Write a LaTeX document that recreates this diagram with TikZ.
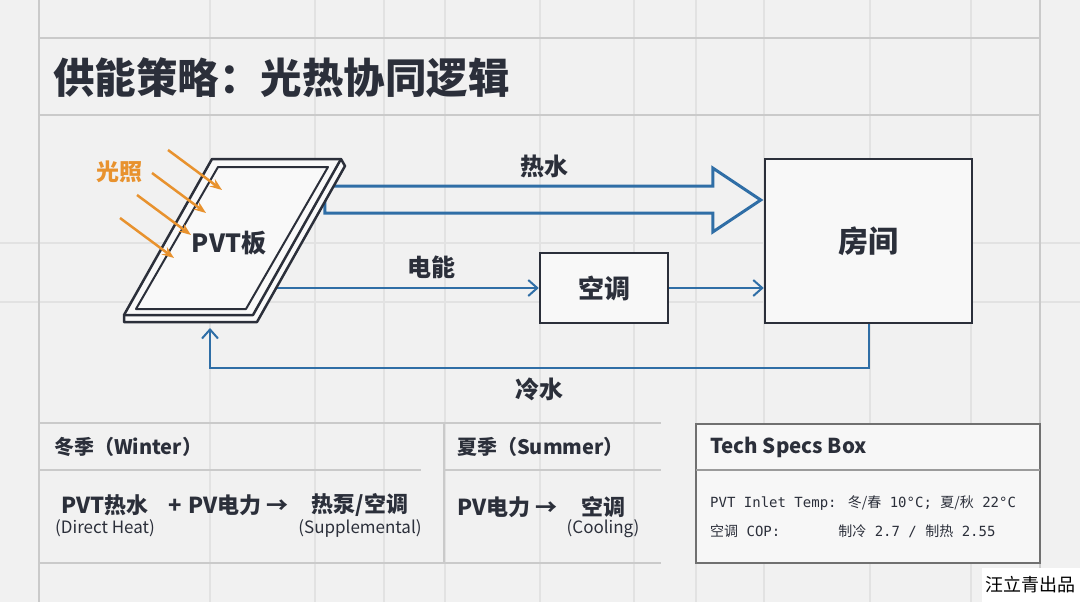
\documentclass[tikz,border=0pt]{standalone}
\usepackage{fontspec}
\setmainfont{Noto Sans CJK SC}
\newfontfamily\monofont{DejaVu Sans Mono}
\usetikzlibrary{arrows.meta, positioning, calc}
\definecolor{ink}{HTML}{2B2F3A}
\definecolor{pipe}{HTML}{2F6EA6}
\definecolor{sun}{HTML}{E8922E}
\definecolor{paper}{HTML}{F1F1F1}
\definecolor{gridc}{HTML}{E2E2E2}
\definecolor{framec}{HTML}{CACACA}
\definecolor{specc}{HTML}{707070}
\newcommand{\fsz}[1]{\fontsize{#1}{#1}\selectfont}

\begin{document}
\begin{tikzpicture}[x=1pt, y=-1pt,
  box/.style = {draw=ink, line width=2.5pt, fill=paper!50!white, text=ink, inner sep=0pt, font=\fsz{26}\bfseries},
  lbl/.style = {text=ink, inner sep=0pt, font=\fsz{24}\bfseries},
  flow/.style = {draw=pipe, line width=2pt, -{Straight Barb[length=9pt,width=16pt]}},
  hotpipe/.style = {draw=pipe, line width=3pt, line join=miter},
  ray/.style = {draw=sun, line width=2.5pt, -{Stealth[length=12pt,width=9pt]}},
  panel/.style = {draw=ink, line width=2.5pt, line join=round, fill=white!60!paper},
  hdr/.style = {text=ink, inner sep=0pt, anchor=west, font=\fsz{20}\bfseries},
  item/.style = {text=ink, inner sep=0pt, font=\fsz{22}\bfseries},
  note/.style = {text=ink, inner sep=0pt, font=\fsz{17}},
  spec/.style = {text=ink, inner sep=0pt, anchor=west, font=\fsz{14}},
  sepline/.style = {draw=framec, line width=1.5pt}]

\useasboundingbox (0,0) rectangle (1080,602);
\fill[paper] (0,0) rectangle (1080,602);

% grid
\foreach \gx in {210,315,384,445,540,634,696,764,870,971}
  \draw[gridc, line width=1.2pt] (\gx,0) -- (\gx,602);
\foreach \gy in {243,302}
  \draw[gridc, line width=1.2pt] (0,\gy) -- (1080,\gy);
\foreach \gx in {39,1040}
  \draw[framec, line width=1.2pt] (\gx,0) -- (\gx,602);
\draw[sepline] (39,38) -- (1040,38);
\draw[sepline] (39,115) -- (1040,115);

% title
\node[text=ink, inner sep=0pt, anchor=west, font=\fsz{41.5}\bfseries] (title) at (53,78) {供能策略：光热协同逻辑};

% boxes
\node[box, minimum width=128pt, minimum height=70pt] (ac) at (604,288) {空调};
\node[box, minimum width=207pt, minimum height=164pt, font=\fsz{30}\bfseries] (room) at (868.5,241) {房间};

% pipes
\coordinate (hottip) at ($(room.west)+(-3,-41)$);
\draw[hotpipe] ($(hottip)+(-436,-14)$) -- ++(388,0) -- ++(0,-18) -- (hottip)
  -- ++(-48,32) -- ++(0,-19) -- ++(-388,0) -- cycle;
\node[lbl] (hotlbl) at ($(hottip)+(-216,-34)$) {热水};

\coordinate (pvtout) at (270,288);
\draw[flow] (pvtout) -- (ac.west) node[lbl, pos=0.6, above=8pt] (eleclbl) {电能};
\draw[flow] (ac.east) -- (room.west |- ac.east);

\coordinate (pvtin) at (210,328);
\draw[flow] (room.south) -- ++(0,44) -| (pvtin) node[lbl, pos=0.25, below=9pt] (coldlbl) {冷水};

% PVT panel
\coordinate (pTL) at (212,159);
\coordinate (pTR) at (341,159);
\coordinate (pBR) at (253,315);
\coordinate (pBL) at (124,315);
\filldraw[panel] (pTL) -- (pTR) -- ($(pTR)+(4,7)$) -- ($(pBR)+(4,7)$) -- ($(pBL)+(0,7)$) -- (pBL) -- cycle;
\draw[panel, fill=none] (pTR) -- (pBR) -- (pBL);
\draw[panel, fill=none, line width=2pt] (218,167) -- (328,167) -- (246,309) -- (136,309) -- cycle;
\node[lbl, font=\fsz{25}\bfseries] (pvt) at (229,243) {PVT板};

% sunlight
\node[lbl, text=sun, font=\fsz{23}\bfseries] (light) at (119,172) {光照};
\foreach \sx/\sy [count=\i] in {168/150, 152/173, 137/195, 120/218}{
  \coordinate (ray\i) at (\sx,\sy);
  \draw[ray] (ray\i) -- ++(54,40);
}

% seasons
\draw[sepline] (39,423) -- (661,423);
\draw[sepline] (39,563) -- (661,563);
\draw[sepline] (444,423) -- (444,563);
\draw[sepline] (39,470) -- (421,470);
\draw[sepline] (444,470) -- (661,470);

\node[hdr] (winter) at (54,447) {冬季（Winter）};
\node[item, anchor=west] (wheat) at (61,505) {PVT热水};
\node[item, anchor=west] (welec) at (168,505) {+\hspace{7pt}PV电力 →};
\node[item] (wpump) at (360,505) {热泵/空调};
\node[note] (wheatnote) at (105,528) {(Direct Heat)};
\node[note] (wpumpnote) at (360,528) {(Supplemental)};

\node[hdr] (summer) at (457,447) {夏季（Summer）};
\node[item, anchor=west] (selec) at (457,507) {PV电力 →};
\node[item] (sac) at (603,507) {空调};
\node[note] (sacnote) at (603,529) {(Cooling)};

% tech specs
\draw[draw=specc, line width=1.5pt, fill=white!40!paper] (696,424) rectangle (1040,563);
\draw[draw=specc!70, line width=1.2pt] (696,470) -- (1040,470);
\node[hdr, font=\fsz{20.5}\bfseries] (specs) at (710,447) {Tech Specs Box};
\node[spec] (spec1) at (710,503) {\monofont PVT Inlet Temp: \rmfamily 冬/春\monofont\ 10°C; \rmfamily 夏/秋\monofont\ 22°C};
\node[spec] (spec2) at (710,531) {\rmfamily 空调\monofont\ COP:\hspace{58pt}\rmfamily 制冷\monofont\ 2.7 / \rmfamily 制热\monofont\ 2.55};

% signature
\node[fill=white, inner sep=4pt, minimum height=34pt, anchor=south east, font=\fsz{18}] (sign) at (1080,602) {汪立青出品};
\end{tikzpicture}
\end{document}
